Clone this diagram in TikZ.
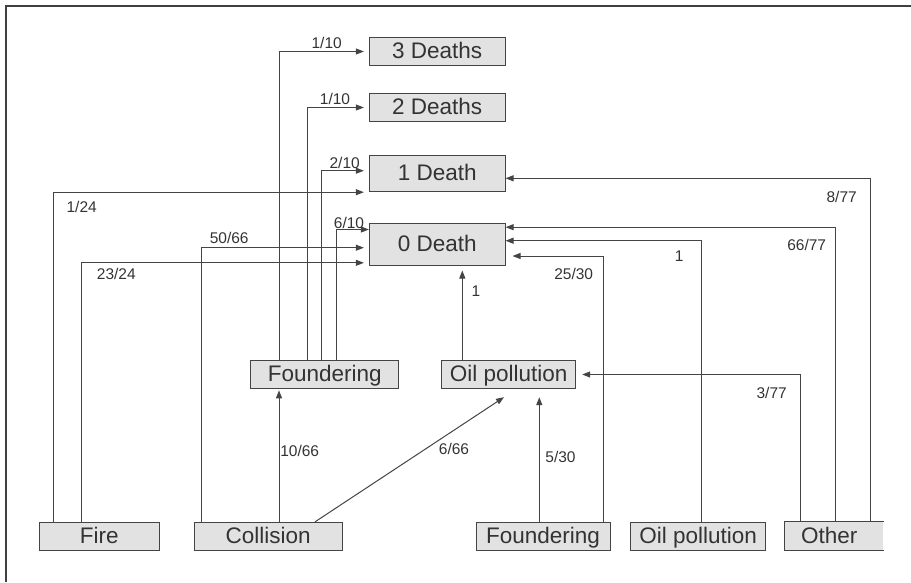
\documentclass[tikz,border=0pt]{standalone}
\usepackage{fontspec}
\setmainfont{Liberation Sans}
\usetikzlibrary{arrows.meta,calc}
\definecolor{boxfill}{HTML}{E2E2E2}
\definecolor{linec}{HTML}{444444}
\definecolor{textc}{HTML}{333333}
\tikzset{
  box/.style={draw=linec, fill=boxfill, line width=1pt, inner sep=0pt, text=textc,
    text height=16pt, text depth=2pt,
    font=\fontsize{22.5}{24}\selectfont},
  lbl/.style={text=textc, inner sep=0pt, font=\fontsize{15.5}{17}\selectfont},
  conn/.style={draw=linec, line width=1pt, -{Triangle[length=8pt,width=6pt]}},
}
\begin{document}
\begin{tikzpicture}[x=1pt,y=-1pt]
\useasboundingbox (0,0) rectangle (911,582);
% frame
\draw[line width=2pt, draw=black!75] (6.3,582) -- (6.3,6) -- (911,6);

% outcome nodes
\node[box, minimum width=135.7pt, minimum height=28.4pt] (d3) at (437.2,51.5) {3 Deaths};
\node[box, minimum width=135.7pt, minimum height=28.4pt] (d2) at (437.2,107.5) {2 Deaths};
\node[box, minimum width=135.7pt, minimum height=36pt] (d1) at (437.2,173.7) {1 Death};
\node[box, minimum width=135.7pt, minimum height=42.4pt] (d0) at (437.2,244.5) {0 Death};
% middle nodes
\node[box, minimum width=148.3pt, minimum height=27.6pt] (fm) at (324.8,374.5) {Foundering};
\node[box, minimum width=134pt, minimum height=27.6pt] (om) at (508.7,374.5) {Oil pollution};
% bottom nodes
\node[box, minimum width=119.7pt, minimum height=27.7pt] (fire) at (99.2,536.2) {Fire};
\node[box, minimum width=148.3pt, minimum height=27.7pt] (coll) at (268.2,536.2) {Collision};
\node[box, minimum width=134pt, minimum height=27.7pt] (fb) at (543,536.2) {Foundering};
\node[box, minimum width=135pt, minimum height=27.7pt] (ob) at (698.2,536.2) {Oil pollution};
\node[box, draw=none, minimum width=98.3pt, minimum height=27.7pt, text width=98.3pt, align=left] (oth) at (834.2,536.2) {\hspace{16pt}Other};
\draw[draw=linec, line width=1pt] (oth.north east) -- (oth.north west) -- (oth.south west) -- (oth.south east);

% Foundering (middle) -> deaths
\draw[conn, shorten >=5pt] (279,0 |- fm.north) |- (d3.west);
\draw[conn, shorten >=5pt] (307.7,0 |- fm.north) |- (d2.west);
\draw[conn, shorten >=5pt] (321,0 |- fm.north) |- ($(d1.west)+(0,-3)$);
\draw[conn] (336,0 |- fm.north) |- ($(d0.north west)+(0,6.7)$);

% Fire
\draw[conn, shorten >=5pt] (53.3,0 |- fire.north) |- (d1.south west);
\draw[conn, shorten >=5pt] (81,0 |- fire.north) |- ($(d0.south west)+(0,-3.4)$);

% Collision
\draw[conn, shorten >=5pt] (201,0 |- coll.north) |- ($(d0.west)+(0,3.2)$);
\draw[conn, shorten >=1.5pt] (279,0 |- coll.north) -- (279,0 |- fm.south);
\coordinate (omtip) at ($(om.south)+(-4.7,8.4)$);
\draw[conn] (315,0 |- coll.north) -- (omtip);

% Foundering (bottom)
\draw[conn, shorten >=8.4pt] (539.3,0 |- fb.north) -- (539.3,0 |- om.south);
\draw[conn, shorten >=7pt] (603.3,0 |- fb.north) |- ($(d0.east)+(0,11.5)$);

% Oil pollution (bottom)
\draw[conn] (701.7,0 |- ob.north) |- ($(d0.east)+(0,-3.8)$);

% Other
\draw[conn] (835.7,0 |- oth.north) |- ($(d0.north east)+(0,4.4)$);
\draw[conn] (870.7,0 |- oth.north) |- ($(d1.east)+(0,4.6)$);
\draw[conn, shorten >=6pt] (800,0 |- oth.north) |- (om.east);

% Oil pollution (middle) -> 0 Death
\draw[conn, shorten >=4.3pt] (462.3,0 |- om.north) -- (462.3,0 |- d0.south);

% labels
\node[lbl] (l1) at (326.7,42.8) {1/10};
\node[lbl] (l2) at (335,98.5) {1/10};
\node[lbl] (l3) at (344.7,162.5) {2/10};
\node[lbl] (l4) at (349,222.5) {6/10};
\node[lbl] (l5) at (81.7,207) {1/24};
\node[lbl] (l6) at (229.2,238.3) {50/66};
\node[lbl] (l7) at (116.3,273.7) {23/24};
\node[lbl] (l8) at (841.7,197) {8/77};
\node[lbl] (l9) at (806.7,245) {66/77};
\node[lbl] (l10) at (679.3,256) {1};
\node[lbl] (l11) at (573.7,273.7) {25/30};
\node[lbl] (l12) at (476,290.7) {1};
\node[lbl] (l13) at (299.7,450.5) {10/66};
\node[lbl] (l14) at (454,449) {6/66};
\node[lbl] (l15) at (560.5,457) {5/30};
\node[lbl] (l16) at (771.7,393) {3/77};
\end{tikzpicture}
\end{document}
